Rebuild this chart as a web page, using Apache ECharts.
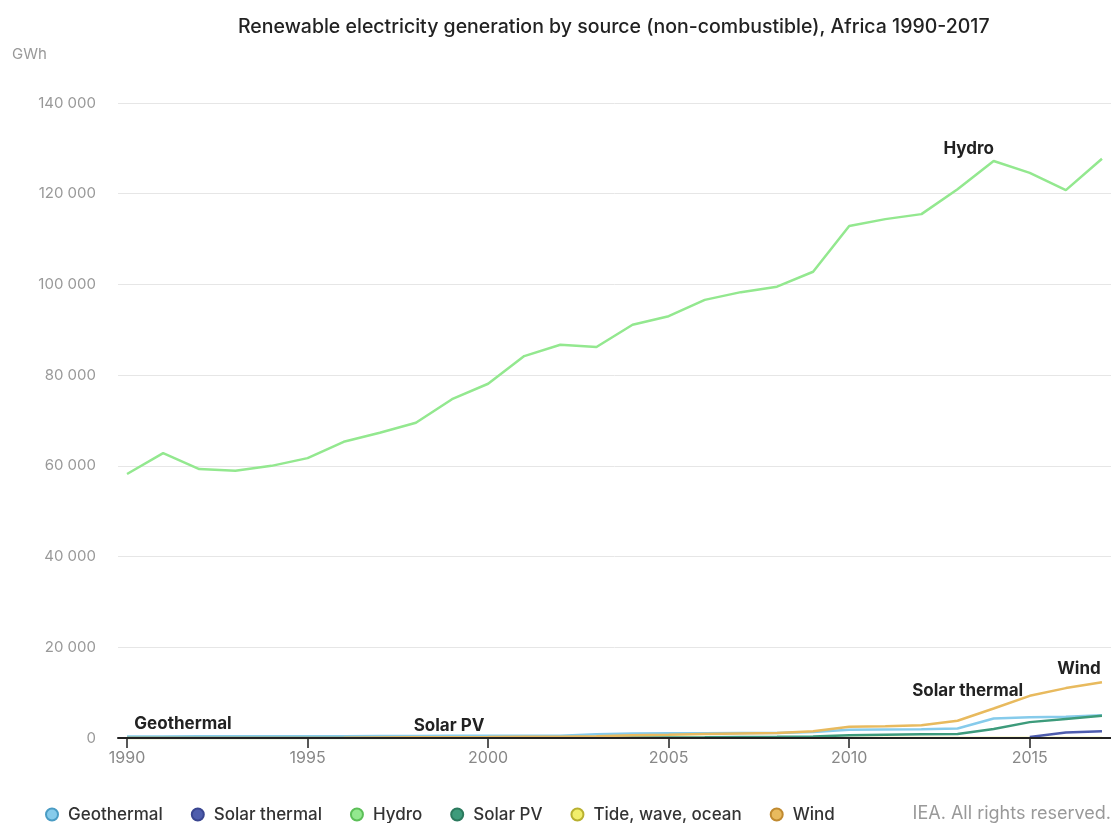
<!DOCTYPE html>
<html><head><meta charset="utf-8">
<script src="https://cdn.jsdelivr.net/npm/echarts@6/dist/echarts.min.js"></script>
<style>html,body{margin:0;padding:0;background:#fff}#c{width:1111px;height:823px}</style>
</head><body><div id="c"></div>
<script>
const years = [1990,1991,1992,1993,1994,1995,1996,1997,1998,1999,2000,2001,2002,2003,2004,2005,2006,2007,2008,2009,2010,2011,2012,2013,2014,2015,2016,2017];
const geothermal = [350,350,360,370,380,390,400,420,450,480,500,500,520,800,1000,1050,1050,1100,1100,1300,1800,1900,1950,2100,4300,4600,4700,5000];
const solarThermal = [null,null,null,null,null,null,null,null,null,null,null,null,null,null,null,null,null,null,null,null,null,null,null,null,null,200,1200,1500];
const hydro = [58200,62800,59300,58900,60000,61700,65300,67300,69500,74700,78100,84200,86700,86200,91100,93000,96600,98300,99500,102800,112900,114400,115500,121000,127200,124600,120800,127700];
const solarPV = [10,10,10,10,10,20,20,20,30,30,40,50,60,80,100,120,150,200,250,350,600,700,800,900,2000,3500,4200,4900];
const tide = [0,0,0,0,0,0,0,0,0,0,0,0,0,0,0,0,0,0,0,0,0,0,0,0,0,0,0,0];
const wind = [0,0,0,0,10,20,50,100,150,180,200,250,300,400,600,700,900,1000,1100,1500,2500,2600,2800,3800,6500,9300,11000,12300];
const xTicks = [1990,1995,2000,2005,2010,2015];

const pair = arr => years.map((y,i)=>[y,arr[i]]);
const font = 'Inter';
const lbl = (text, coord, offset) => ({
  coord, symbolSize: 0,
  label:{show:true, formatter:text, position:'inside', offset, color:'#222', fontFamily:font, fontWeight:'bold', fontSize:17}
});
const mk = (name, data, color, border, z, labels) => ({
  name, type:'line', data:pair(data), showSymbol:false, symbol:'circle', z,
  lineStyle:{width:2.5, color}, itemStyle:{color, borderColor:border, borderWidth:1.5},
  emphasis:{disabled:true}, animation:false,
  markPoint: labels ? {symbol:'circle', symbolSize:0, animation:false, data:labels} : undefined
});

const chart = echarts.init(document.getElementById('c'));
chart.setOption({
  animation:false,
  textStyle:{fontFamily:font},
  title:{text:'Renewable electricity generation by source (non-combustible), Africa 1990-2017', left:233, top:12,
    textStyle:{fontFamily:font, fontSize:19.5, fontWeight:500, color:'#222'}},
  graphic:[
    {type:'text', left:12, top:47, style:{text:'GWh', fill:'#999', font:'15px Inter'}},
    {type:'text', right:0, top:805, style:{text:'IEA. All rights reserved.', fill:'#999', font:'18px Inter'}}
  ],
  legend:{left:40, top:801, icon:'circle', itemWidth:22, itemHeight:12, itemGap:28,
    textStyle:{fontFamily:font, fontSize:17, color:'#333', fontWeight:500},
    data:['Geothermal','Solar thermal','Hydro','Solar PV','Tide, wave, ocean','Wind']},
  grid:{left:118, right:0, top:103, bottom:85},
  xAxis:{type:'value', min:1989.75, max:2017.25, z:10,
    axisLine:{show:true, onZero:false, lineStyle:{color:'#222', width:2}},
    axisTick:{show:true, customValues:xTicks, length:10, lineStyle:{color:'#222', width:1.5}},
    axisLabel:{customValues:xTicks, color:'#888', fontSize:16, fontFamily:font, margin:12, formatter:v=>String(v)},
    splitLine:{show:false}},
  yAxis:{type:'value', min:0, max:140000, interval:20000,
    axisLine:{show:false}, axisTick:{show:false},
    axisLabel:{color:'#999', fontSize:15, fontFamily:font, margin:22, formatter:v=>String(v).replace(/\B(?=(\d{3})+(?!\d))/g,' ')},
    splitLine:{lineStyle:{color:'#e6e6e6', width:1}}},
  series:[
    mk('Geothermal', geothermal, '#86cbeb', '#4a9cc4', 4, [lbl('Geothermal',[1990,geothermal[0]],[56,-13])]),
    mk('Solar thermal', solarThermal, '#4e5dad', '#3a4690', 5, [lbl('Solar thermal',[2014,wind[24]],[-26,-18])]),
    mk('Hydro', hydro, '#93e88f', '#5cbf58', 3, [lbl('Hydro',[2014,hydro[24]],[-25,-12])]),
    mk('Solar PV', solarPV, '#3d9b7b', '#2c7a5e', 4, [lbl('Solar PV',[1999,solarPV[9]],[-3,-12])]),
    mk('Tide, wave, ocean', tide, '#f2ee6c', '#b8b030', 1, null),
    mk('Wind', wind, '#e8ba5e', '#c08a30', 6, [lbl('Wind',[2017,wind[27]],[-23,-13])])
  ]
});
</script></body></html>
